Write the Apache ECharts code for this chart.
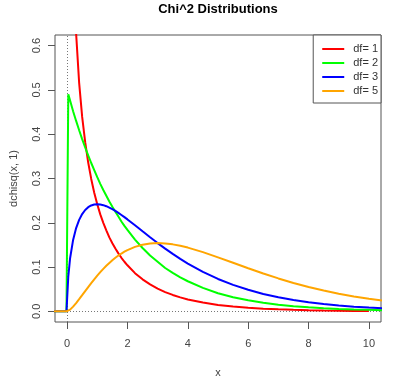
<!DOCTYPE html>
<html>
<head>
<meta charset="utf-8">
<script src="https://cdn.jsdelivr.net/npm/echarts@6/dist/echarts.min.js"></script>
<style>html,body{margin:0;padding:0;background:#fff}#c{width:400px;height:383px}</style>
</head>
<body>
<div id="c"></div>
<script>
const xs = [-0.5, -0.02, 0.04, 0.1, 0.2, 0.3, 0.4, 0.5, 0.6, 0.7, 0.8, 0.9, 1.0, 1.1, 1.2, 1.3, 1.4, 1.5, 1.6, 1.7, 1.8, 1.9, 2.0, 2.25, 2.5, 2.75, 3.0, 3.25, 3.5, 3.75, 4.0, 4.5, 5.0, 5.5, 6.0, 6.5, 7.0, 7.5, 8.0, 8.5, 9.0, 9.5, 10.0, 10.5];
const df1 = [null, null, 1.955, 1.200, 0.807, 0.627, 0.516, 0.439, 0.382, 0.336, 0.299, 0.268, 0.242, 0.219, 0.200, 0.183, 0.167, 0.154, 0.142, 0.131, 0.121, 0.112, 0.104, 0.0863, 0.0723, 0.0608, 0.0514, 0.0436, 0.0371, 0.0316, 0.0270, 0.0198, 0.0146, 0.0109, 0.0081, 0.0061, 0.0046, 0.0034, 0.0026, 0.0020, 0.0015, 0.0011, 0.00085, null];
const df2 = [0, 0, 0.490, 0.476, 0.452, 0.430, 0.409, 0.389, 0.370, 0.352, 0.335, 0.319, 0.303, 0.288, 0.274, 0.261, 0.248, 0.236, 0.225, 0.214, 0.203, 0.193, 0.184, 0.162, 0.143, 0.126, 0.112, 0.098, 0.087, 0.077, 0.068, 0.053, 0.041, 0.032, 0.0249, 0.0194, 0.0151, 0.0118, 0.0092, 0.0071, 0.0056, 0.0043, 0.0034, 0.0026];
const df3 = [0, 0, 0.0782, 0.1200, 0.1614, 0.1881, 0.2066, 0.2197, 0.2289, 0.2352, 0.2392, 0.2413, 0.2420, 0.2414, 0.2398, 0.2375, 0.2344, 0.2308, 0.2267, 0.2223, 0.2176, 0.2127, 0.2076, 0.1943, 0.1807, 0.1673, 0.1542, 0.1416, 0.1297, 0.1185, 0.1080, 0.0892, 0.0732, 0.0598, 0.0487, 0.0394, 0.0319, 0.0257, 0.0207, 0.0166, 0.0133, 0.0106, 0.0085, 0.0068];
const df5 = [0, 0, 0.0010, 0.0040, 0.0108, 0.0188, 0.0275, 0.0366, 0.0458, 0.0549, 0.0638, 0.0724, 0.0807, 0.0885, 0.0959, 0.1029, 0.1094, 0.1154, 0.1209, 0.1260, 0.1306, 0.1347, 0.1384, 0.1457, 0.1506, 0.1533, 0.1542, 0.1534, 0.1513, 0.1481, 0.1440, 0.1338, 0.1220, 0.1097, 0.0973, 0.0854, 0.0744, 0.0642, 0.0551, 0.0470, 0.0399, 0.0337, 0.0283, 0.0238];
const seriesNames = ['df= 1', 'df= 2', 'df= 3', 'df= 5'];
const seriesColors = ['#ff0000', '#00ff00', '#0000ff', '#ffa500'];
const xTicks = [0, 2, 4, 6, 8, 10];
const yTicks = [0, 0.1, 0.2, 0.3, 0.4, 0.5, 0.6];

const allY = [df1, df2, df3, df5];
const FONT = 'Liberation Sans, Arial, Helvetica, sans-serif';

const series = allY.map((ys, i) => ({
  name: seriesNames[i],
  type: 'line',
  data: xs.map((x, j) => [x, ys[j]]),
  showSymbol: false,
  symbol: 'none',
  connectNulls: false,
  clip: true,
  lineStyle: { width: 2, color: seriesColors[i] },
  itemStyle: { color: seriesColors[i] },
  z: 3 + i
}));
series[0].markLine = {
  silent: true,
  symbol: ['none', 'none'],
  label: { show: false },
  animation: false,
  lineStyle: { type: [1, 2], color: '#777', width: 1 },
  z: 1,
  data: [{ xAxis: 0 }, { yAxis: 0 }]
};

const chart = echarts.init(document.getElementById('c'), null, { renderer: 'canvas' });
chart.setOption({
  animation: false,
  backgroundColor: '#fff',
  textStyle: { fontFamily: FONT },
  title: {
    text: 'Chi^2 Distributions',
    left: 218,
    textAlign: 'center',
    top: 3,
    padding: 0,
    textStyle: { fontSize: 13, fontWeight: 'bold', color: '#000', fontFamily: FONT }
  },
  legend: {
    right: 19,
    top: 35,
    orient: 'vertical',
    align: 'left',
    padding: [8, 3, 6, 9],
    itemWidth: 22,
    itemHeight: 2,
    itemGap: 2,
    icon: 'rect',
    borderColor: '#555',
    borderWidth: 1,
    backgroundColor: '#fff',
    textStyle: { fontSize: 11, color: '#333', fontFamily: FONT, lineHeight: 12, padding: [0, 0, 0, 4] },
    data: seriesNames
  },
  grid: {
    left: 54, right: 19, top: 35, bottom: 61,
    show: true, borderColor: '#555', borderWidth: 1, backgroundColor: 'transparent',
    containLabel: false
  },
  xAxis: {
    type: 'value',
    min: -0.4, max: 10.4,
    name: 'x',
    nameLocation: 'middle',
    nameGap: 45,
    nameTextStyle: { fontSize: 11, color: '#444', fontFamily: FONT },
    axisLine: { show: false, onZero: false },
    axisTick: { show: true, length: 7, lineStyle: { color: '#555' }, customValues: xTicks },
    axisLabel: { fontSize: 11, color: '#444', margin: 16, customValues: xTicks, fontFamily: FONT },
    splitLine: { show: false }
  },
  yAxis: {
    type: 'value',
    min: -0.024, max: 0.624,
    name: 'dchisq(x, 1)',
    nameLocation: 'middle',
    nameGap: 36,
    nameTextStyle: { fontSize: 11, color: '#444', fontFamily: FONT },
    axisLine: { show: false, onZero: false },
    axisTick: { show: true, length: 7, lineStyle: { color: '#555' }, customValues: yTicks },
    axisLabel: { fontSize: 11, color: '#444', margin: 13, rotate: 90, customValues: yTicks, fontFamily: FONT,
      formatter: v => v.toFixed(1) },
    splitLine: { show: false }
  },
  series: series
});
</script>
</body>
</html>
